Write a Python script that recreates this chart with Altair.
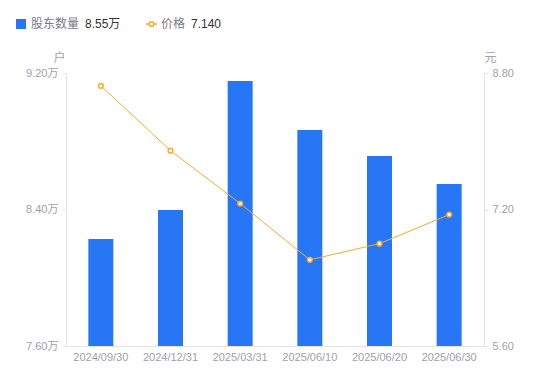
import altair as alt
import pandas as pd

dates = ["2024/09/30", "2024/12/31", "2025/03/31", "2025/06/10", "2025/06/20", "2025/06/30"]
holders_wan = [8.227, 8.397, 9.153, 8.866, 8.714, 8.55]
price = [8.65, 7.89, 7.27, 6.61, 6.80, 7.14]

df = pd.DataFrame({"date": dates, "holders": holders_wan, "price": price})

FONT = "Liberation Sans, Noto Sans CJK SC"
BLUE = "#2676F5"
ORANGE = "#F5AC2E"
AXIS_GRAY = "#E3E3E8"
LABEL_GRAY = "#A0A0AC"
Y_MIN = 7.6

x_enc = alt.X("date:N", sort=dates, title=None,
              scale=alt.Scale(paddingInner=0.0, paddingOuter=0.0),
              axis=alt.Axis(labelAngle=0, ticks=False, domainColor=AXIS_GRAY,
                            labelColor=LABEL_GRAY, labelFontSize=11, labelFont=FONT,
                            labelPadding=5))

bars = alt.Chart(df).mark_bar(size=25, color=BLUE, clip=True).encode(
    x=x_enc,
    y=alt.Y("holders:Q", scale=alt.Scale(domain=[Y_MIN, 9.2], nice=False, zero=False),
            axis=alt.Axis(values=[7.6, 8.4, 9.2], labelExpr="format(datum.value, '.2f') + '万'",
                          grid=False, domainColor=AXIS_GRAY, tickColor=AXIS_GRAY, tickSize=4,
                          labelColor=LABEL_GRAY, labelFontSize=11, labelFont=FONT, labelPadding=4,
                          title="户", titleAngle=0, titleX=-7, titleY=-16, titleAlign="center",
                          titleBaseline="middle",
                          titleColor=LABEL_GRAY, titleFontWeight="normal", titleFontSize=12,
                          titleFont=FONT)),
    y2=alt.datum(Y_MIN),
)

line = alt.Chart(df).mark_line(color=ORANGE, strokeWidth=1,
                               point=alt.OverlayMarkDef(filled=True, fill="#FFFFFF", stroke=ORANGE,
                                                        strokeWidth=1.5, size=22)).encode(
    x=alt.X("date:N", sort=dates),
    y=alt.Y("price:Q", scale=alt.Scale(domain=[5.6, 8.8], nice=False, zero=False),
            axis=alt.Axis(orient="right", values=[5.6, 7.2, 8.8], format=".2f",
                          grid=False, domainColor=AXIS_GRAY, tickColor=AXIS_GRAY, tickSize=4,
                          labelColor=LABEL_GRAY, labelFontSize=11, labelFont=FONT, labelPadding=4,
                          title="元", titleAngle=0, titleX=6, titleY=-16, titleAlign="center",
                          titleBaseline="middle",
                          titleColor=LABEL_GRAY, titleFontWeight="normal", titleFontSize=12,
                          titleFont=FONT)),
)

one = pd.DataFrame({"a": [0]})
last_holders = f"{holders_wan[-1]:.2f}万"
last_price = f"{price[-1]:.3f}"

leg_sq = alt.Chart(one).mark_square(size=100, color=BLUE, opacity=1, cornerRadius=2).encode(
    x=alt.value(-45), y=alt.value(-49))
leg_t1 = alt.Chart(one).mark_text(align="left", baseline="middle", fontSize=12, font=FONT,
                                  color="#7A7A85").encode(
    x=alt.value(-35), y=alt.value(-49), text=alt.value("股东数量"))
leg_v1 = alt.Chart(one).mark_text(align="left", baseline="middle", fontSize=12, font=FONT,
                                  color="#333333").encode(
    x=alt.value(19), y=alt.value(-49), text=alt.value(last_holders))
leg_ln = alt.Chart(one).mark_rule(color=ORANGE, strokeWidth=1.5).encode(
    x=alt.value(80), x2=alt.value(91), y=alt.value(-49))
leg_pt = alt.Chart(one).mark_point(filled=True, fill="#FFFFFF", stroke=ORANGE, strokeWidth=1.5,
                                   size=22, opacity=1).encode(x=alt.value(85.5), y=alt.value(-49))
leg_t2 = alt.Chart(one).mark_text(align="left", baseline="middle", fontSize=12, font=FONT,
                                  color="#7A7A85").encode(
    x=alt.value(95), y=alt.value(-49), text=alt.value("价格"))
leg_v2 = alt.Chart(one).mark_text(align="left", baseline="middle", fontSize=12, font=FONT,
                                  color="#333333").encode(
    x=alt.value(125), y=alt.value(-49), text=alt.value(last_price))

chart = alt.layer(bars, line, leg_sq, leg_t1, leg_v1, leg_ln, leg_pt, leg_t2, leg_v2).resolve_scale(
    y="independent"
).properties(
    width=418, height=273,
    background="#FFFFFF",
    autosize=alt.AutoSizeParams(type="none"),
    padding={"left": 58, "top": 65, "right": 50, "bottom": 20},
).configure_view(stroke=None)

chart.save("out.html", embed_options={"renderer": "svg", "actions": False})
